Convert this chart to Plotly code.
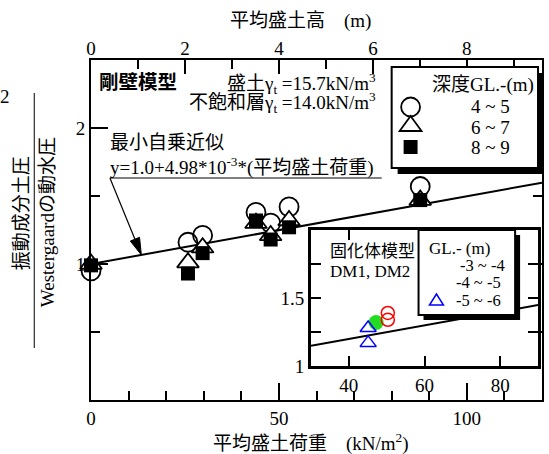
import plotly.graph_objects as go

# ---------------------------------------------------------------- data
# mean embankment load at each measuring section (kN/m2)
LOAD = [0, 25.8, 29.7, 43.9, 47.8, 52.7, 87.6]
# ratio of dynamic earth pressure to Westergaard hydrodynamic pressure, per depth GL.-(m)
RATIO_4_5 = [0.95, 1.16, 1.21, 1.38, 1.30, 1.42, 1.57]
RATIO_6_7 = [1.00, 1.01, 1.12, 1.30, 1.21, 1.32, 1.47]
RATIO_8_9 = [0.99, 0.93, 1.08, 1.32, 1.18, 1.27, 1.47]
DEPTH_LABELS = ["4 ~ 5", "6 ~ 7", "8 ~ 9"]

# least-squares fit: ratio = FIT_A + FIT_B * load
FIT_A = 1.0
FIT_B = 4.98e-3

# solidified-body model (DM1, DM2)
DM_LOAD_3_4 = [50.3, 50.3]
DM_RATIO_3_4 = [1.39, 1.34]
DM_LOAD_4_5 = [47.2]
DM_RATIO_4_5 = [1.32]
DM_LOAD_5_6 = [45.1, 45.1]
DM_RATIO_5_6 = [1.28, 1.17]
DM_LABELS = ["-3 ~ -4", "-4 ~ -5", "-5 ~ -6"]

LOAD_RANGE = [0, 120]
RATIO_RANGE = [0, 2.5]
INSET_LOAD_RANGE = [30, 90]
INSET_RATIO_RANGE = [1, 2]
LOAD_PER_METRE = 12.5          # top axis: mean embankment height (m)

# ---------------------------------------------------------------- geometry
W, H = 549, 454
ML, MR, MT, MB = 91, 5, 60, 54
PW, PH = W - ML - MR, H - MT - MB

FONT = "Liberation Serif, Noto Sans CJK JP"
BLACK = "#000000"


def px(x):
    return (x - ML) / PW


def py(y):
    return (H - MB - y) / PH


def fit(x):
    return FIT_A + FIT_B * x


fig = go.Figure()

# ---------------------------------------------------------------- main plot
fig.add_trace(go.Scatter(
    x=LOAD_RANGE, y=[fit(v) for v in LOAD_RANGE], mode="lines",
    line=dict(color=BLACK, width=2), showlegend=False, hoverinfo="skip"))

fig.add_trace(go.Scatter(
    x=LOAD, y=RATIO_4_5, mode="markers", cliponaxis=False, name=DEPTH_LABELS[0],
    marker=dict(symbol="circle-open", size=19, color=BLACK, line=dict(width=1.8))))
fig.add_trace(go.Scatter(
    x=LOAD, y=RATIO_6_7, mode="markers", cliponaxis=False, name=DEPTH_LABELS[1],
    marker=dict(symbol="triangle-up", size=19, color="white",
                line=dict(color=BLACK, width=1.8))))
fig.add_trace(go.Scatter(
    x=LOAD, y=RATIO_8_9, mode="markers", cliponaxis=False, name=DEPTH_LABELS[2],
    marker=dict(symbol="square", size=14, color=BLACK, line=dict(width=0))))

# top axis carrier
fig.add_trace(go.Scatter(x=[0], y=[None], xaxis="x2", yaxis="y", mode="lines",
                         showlegend=False, hoverinfo="skip"))

# ---------------------------------------------------------------- inset
fig.add_trace(go.Scatter(
    x=INSET_LOAD_RANGE, y=[fit(v) for v in INSET_LOAD_RANGE], mode="lines",
    xaxis="x3", yaxis="y3", line=dict(color=BLACK, width=2),
    showlegend=False, hoverinfo="skip"))
fig.add_trace(go.Scatter(
    x=DM_LOAD_4_5, y=DM_RATIO_4_5, mode="markers", xaxis="x3", yaxis="y3",
    cliponaxis=False, name=DM_LABELS[1],
    marker=dict(symbol="circle", size=15, color="#22dd22", line=dict(width=0))))
fig.add_trace(go.Scatter(
    x=DM_LOAD_3_4, y=DM_RATIO_3_4, mode="markers", xaxis="x3", yaxis="y3",
    cliponaxis=False, name=DM_LABELS[0],
    marker=dict(symbol="circle-open", size=13, color="#ff0000", line=dict(width=1.5))))
fig.add_trace(go.Scatter(
    x=DM_LOAD_5_6, y=DM_RATIO_5_6, mode="markers", xaxis="x3", yaxis="y3",
    cliponaxis=False, name=DM_LABELS[2],
    marker=dict(symbol="triangle-up-open", size=14, color="#0000ff", line=dict(width=1.5))))

tickfont = dict(family=FONT, size=19, color=BLACK)

fig.update_layout(
    width=W, height=H, margin=dict(l=ML, r=MR, t=MT, b=MB),
    paper_bgcolor="white", plot_bgcolor="white", showlegend=False,
    font=dict(family=FONT, size=19, color=BLACK),
    xaxis=dict(
        domain=[0, 1], range=LOAD_RANGE, tickvals=[0, 50, 100],
        ticks="inside", ticklen=17, tickwidth=2, tickcolor=BLACK,
        minor=dict(tickvals=list(range(0, 121, 10)), ticks="inside", ticklen=9,
                   tickwidth=2, tickcolor=BLACK),
        showline=True, linewidth=2, linecolor=BLACK, mirror=True,
        showgrid=False, zeroline=False, tickfont=tickfont),
    xaxis2=dict(
        overlaying="x", side="top", anchor="y",
        range=[LOAD_RANGE[0] / LOAD_PER_METRE, LOAD_RANGE[1] / LOAD_PER_METRE],
        tickvals=[0, 2, 4, 6, 8], ticks="inside", ticklen=14, tickwidth=2, tickcolor=BLACK,
        minor=dict(tickvals=list(range(0, 10)), ticks="inside", ticklen=9,
                   tickwidth=2, tickcolor=BLACK),
        showline=False, showgrid=False, zeroline=False, tickfont=tickfont),
    yaxis=dict(
        domain=[0, 1], range=RATIO_RANGE, tickvals=[1, 2],
        ticks="inside", ticklen=17, tickwidth=2, tickcolor=BLACK,
        minor=dict(tickvals=[0.5, 1.5], ticks="inside", ticklen=9,
                   tickwidth=2, tickcolor=BLACK),
        showline=True, linewidth=2, linecolor=BLACK, mirror="ticks",
        showgrid=False, zeroline=False, tickfont=tickfont),
    xaxis3=dict(
        domain=[px(312), px(540)], anchor="y3", range=INSET_LOAD_RANGE,
        tickvals=[40, 60, 80], ticks="inside", ticklen=10, tickwidth=2, tickcolor=BLACK,
        showline=True, linewidth=3, linecolor=BLACK, mirror="ticks",
        showgrid=False, zeroline=False, tickfont=tickfont),
    yaxis3=dict(
        domain=[py(366), py(230)], anchor="x3", range=INSET_RATIO_RANGE,
        tickvals=[1, 1.25, 1.5, 1.75, 2], ticktext=["1", "", "1.5", "", ""],
        ticks="inside", ticklen=10, tickwidth=2, tickcolor=BLACK,
        showline=True, linewidth=3, linecolor=BLACK, mirror="ticks",
        showgrid=False, zeroline=False, tickfont=tickfont),
)

# ---------------------------------------------------------------- shapes
shapes = []


def rect(x0, y0, x1, y1, **kw):
    shapes.append(dict(type="rect", xref="paper", yref="paper",
                       x0=px(x0), x1=px(x1), y0=py(y1), y1=py(y0), **kw))


def poly(points, **kw):
    d = "M " + " L ".join(f"{px(x):.5f},{py(y):.5f}" for x, y in points) + " Z"
    shapes.append(dict(type="path", xref="paper", yref="paper", path=d, **kw))


# fraction bar of the y title
shapes.append(dict(type="line", xref="paper", yref="paper",
                   x0=px(34), x1=px(34), y0=py(93), y1=py(348),
                   line=dict(color=BLACK, width=1)))

# underline of the fitted equation and the arrow to the fit line
tail = (110, 178)
tip_load = 13.4
tip = (ML + tip_load / LOAD_RANGE[1] * PW, H - MB - fit(tip_load) / RATIO_RANGE[1] * PH)
shapes.append(dict(type="line", xref="paper", yref="paper",
                   x0=px(110), x1=px(383), y0=py(178), y1=py(178),
                   line=dict(color=BLACK, width=1)))
dx, dy = tip[0] - tail[0], tip[1] - tail[1]
n = (dx ** 2 + dy ** 2) ** 0.5
ux, uy = dx / n, dy / n
hl, hw = 17, 5
base = (tip[0] - hl * ux, tip[1] - hl * uy)
shapes.append(dict(type="line", xref="paper", yref="paper",
                   x0=px(tail[0]), y0=py(tail[1]), x1=px(base[0]), y1=py(base[1]),
                   line=dict(color=BLACK, width=1.2)))
poly([tip, (base[0] - hw * uy, base[1] + hw * ux), (base[0] + hw * uy, base[1] - hw * ux)],
     fillcolor=BLACK, line=dict(color=BLACK, width=1))

# depth legend (rigid-wall model)
rect(399, 73, 546, 174, fillcolor=BLACK, line=dict(width=0))
rect(393, 67, 540, 168, fillcolor="white", line=dict(color=BLACK, width=2))
shapes.append(dict(type="circle", xref="paper", yref="paper",
                   x0=px(402.5), x1=px(421.5), y0=py(116.5), y1=py(97.5),
                   fillcolor="rgba(0,0,0,0)", line=dict(color=BLACK, width=1.8)))
poly([(412, 116), (423, 131), (401, 131)], fillcolor="white",
     line=dict(color=BLACK, width=1.8))
rect(405, 140, 419, 154, fillcolor=BLACK, line=dict(width=0))

# GL legend (solidified-body model)
rect(425, 235, 522, 320, fillcolor=BLACK, line=dict(width=0))
rect(420, 230, 517, 315, fillcolor="white", line=dict(color=BLACK, width=2))
poly([(438, 294), (445, 305), (431, 305)], fillcolor="rgba(0,0,0,0)",
     line=dict(color="#0000ff", width=1.5))

fig.update_layout(shapes=shapes)

# ---------------------------------------------------------------- text
ann = []


def text(x, y, s, size=19, anchor="center", angle=0):
    ann.append(dict(x=px(x), y=py(y), xref="paper", yref="paper", text=s,
                    showarrow=False, xanchor=anchor, yanchor="middle",
                    textangle=angle, font=dict(family=FONT, size=size, color=BLACK)))


text(301, 21, "平均盛土高　(m)")
text(312, 442, "平均盛土荷重　(kN/m<sup>2</sup>)")
text(22, 213, "振動成分土圧", angle=-90)
text(47, 222, "Westergaardの動水圧", angle=-90)
text(5, 97, "2")

text(97, 82, "<b>剛壁模型</b>", size=19.5, anchor="left")
text(379, 83, "盛土γ<sub>t</sub> =15.7kN/m<sup>3</sup>", anchor="right")
text(379, 102, "不飽和層γ<sub>t</sub> =14.0kN/m<sup>3</sup>", anchor="right")
text(108, 142, "最小自乗近似", anchor="left")
text(108, 166, f"y={FIT_A:.1f}+{FIT_B * 1e3:.2f}*10<sup>-3</sup>*(平均盛土荷重)", anchor="left")

text(485, 85, "深度GL.-(m)")
for label, yy in zip(DEPTH_LABELS, [107, 128, 147]):
    text(492, yy, label)

text(329, 251, "固化体模型", size=17, anchor="left")
text(329, 271, "DM1, DM2", size=17, anchor="left")
text(461, 248, "GL.- (m)", size=17)
for label, xx, yy in zip(DM_LABELS, [484, 480, 480], [265, 282, 300]):
    text(xx, yy, label, size=16.5)

fig.update_layout(annotations=ann)

fig.write_html("out.html")
